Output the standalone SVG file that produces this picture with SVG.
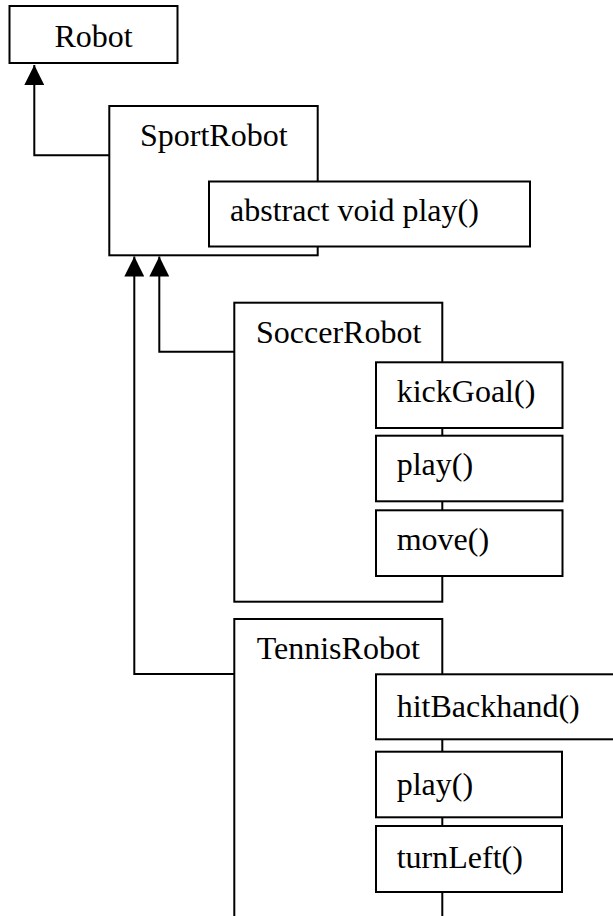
<svg xmlns="http://www.w3.org/2000/svg" width="613" height="916" viewBox="0 0 613 916">
<style>
.box{fill:#fff;stroke:#000;stroke-width:2}
.lbl{font-family:'Liberation Serif','DejaVu Serif',serif;font-size:32px;fill:#000}
.conn{fill:none;stroke:#000;stroke-width:2}
</style>
<defs>
<marker id="tri" markerWidth="20" markerHeight="20" viewBox="0 0 20 20" refX="20" refY="10" orient="auto" markerUnits="userSpaceOnUse">
<path d="M0,0 L20,10 L0,20 z" fill="#000"/>
</marker>
</defs>
<rect width="613" height="916" fill="#fff"/>
<g id="connectors">
<path class="conn" d="M109,155.3 H34.3 V65" marker-end="url(#tri)"/>
<path class="conn" d="M234,351.7 H159.3 V256.5" marker-end="url(#tri)"/>
<path class="conn" d="M234,674 H134.3 V256.5" marker-end="url(#tri)"/>
</g>
<g id="robot">
<rect class="box" x="9.5" y="6" width="168" height="57"/>
<text class="lbl" font-family="Liberation Serif, serif" x="93.5" y="46.7" text-anchor="middle">Robot</text>
</g>
<g id="sportrobot">
<rect class="box" x="109.3" y="106" width="208.4" height="149.3"/>
<text class="lbl" x="140" y="146">SportRobot</text>
<g id="sport-play">
<rect class="box" x="209" y="181.5" width="321" height="65"/>
<text class="lbl" x="230" y="220.5">abstract void play()</text>
</g>
</g>
<g id="soccerrobot">
<rect class="box" x="234.3" y="302.7" width="208" height="299"/>
<text class="lbl" x="256" y="342.7">SoccerRobot</text>
<g id="soccer-kickgoal">
<rect class="box" x="376" y="362.3" width="186.5" height="65.7"/>
<text class="lbl" x="396.7" y="401.7">kickGoal()</text>
</g>
<g id="soccer-play">
<rect class="box" x="376" y="435.7" width="186.5" height="65.6"/>
<text class="lbl" x="396.7" y="475">play()</text>
</g>
<g id="soccer-move">
<rect class="box" x="376" y="510.3" width="186.5" height="65.7"/>
<text class="lbl" x="396.7" y="549.5">move()</text>
</g>
</g>
<g id="tennisrobot">
<rect class="box" x="234.3" y="619" width="208" height="320"/>
<text class="lbl" x="256.7" y="659">TennisRobot</text>
<g id="tennis-hitbackhand">
<rect class="box" x="376" y="674.3" width="260" height="65"/>
<text class="lbl" x="396.7" y="716.7">hitBackhand()</text>
</g>
<g id="tennis-play">
<rect class="box" x="376" y="751.7" width="186" height="65.6"/>
<text class="lbl" x="396.7" y="794.5">play()</text>
</g>
<g id="tennis-turnleft">
<rect class="box" x="376" y="826" width="186" height="66"/>
<text class="lbl" x="396.7" y="868.3">turnLeft()</text>
</g>
</g>
</svg>
